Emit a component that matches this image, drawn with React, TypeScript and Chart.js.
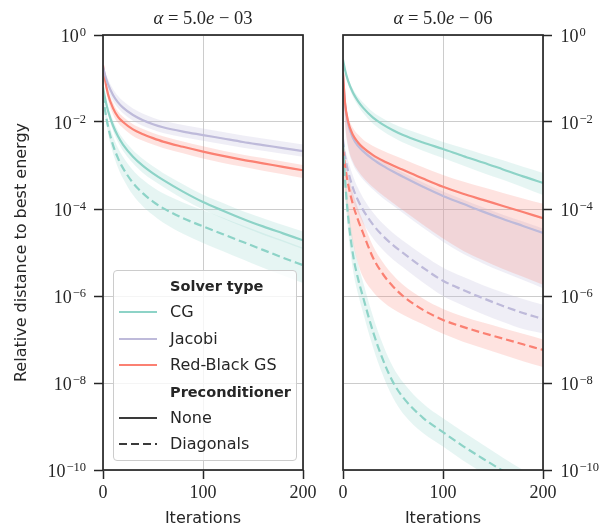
import React, { useEffect, useRef } from 'react';
import { Chart, registerables } from 'chart.js';

Chart.register(...registerables);

// ---- data (values are log10 of the relative distance) ----
const iterations = [0, 2, 5, 10, 15, 20, 30, 40, 50, 60, 80, 100, 120, 140, 160, 180, 200];
const xTickValues = [0, 100, 200];
const yTickValues = [1e-10, 1e-8, 1e-6, 1e-4, 1e-2, 1];
const yTickBase = '10';
const yTickExponents = ['−10', '−8', '−6', '−4', '−2', '0'];
const panelAlphas = ['5.0', '5.0'];
const panelAlphaExps = ['03', '06'];

// Left panel: alpha = 5.0e-03
const jacobiNoneLeft = [-0.73, -0.92, -1.13, -1.38, -1.55, -1.67, -1.84, -1.96, -2.05, -2.12, -2.22, -2.3, -2.38, -2.46, -2.53, -2.6, -2.67];
const jacobiNoneLeftHi = [-0.68, -0.83, -1.01, -1.24, -1.4, -1.52, -1.69, -1.81, -1.9, -1.97, -2.07, -2.15, -2.23, -2.31, -2.38, -2.45, -2.52];
const jacobiNoneLeftLo = [-0.78, -1.01, -1.25, -1.51, -1.68, -1.8, -1.97, -2.09, -2.18, -2.25, -2.35, -2.43, -2.51, -2.59, -2.66, -2.73, -2.8];

const rbgsNoneLeft = [-0.7, -1.02, -1.36, -1.68, -1.88, -2.0, -2.17, -2.28, -2.37, -2.45, -2.57, -2.68, -2.78, -2.87, -2.95, -3.03, -3.11];
const rbgsNoneLeftHi = [-0.66, -0.93, -1.24, -1.56, -1.76, -1.88, -2.05, -2.16, -2.25, -2.33, -2.45, -2.56, -2.66, -2.75, -2.83, -2.91, -2.99];
const rbgsNoneLeftLo = [-0.75, -1.11, -1.48, -1.82, -2.02, -2.14, -2.32, -2.43, -2.52, -2.6, -2.72, -2.84, -2.94, -3.03, -3.12, -3.2, -3.29];

const cgNoneLeft = [-1.2, -1.45, -1.74, -2.08, -2.33, -2.52, -2.8, -3.01, -3.18, -3.33, -3.6, -3.84, -4.04, -4.23, -4.4, -4.56, -4.72];
const cgNoneLeftHi = [-1.15, -1.38, -1.64, -1.96, -2.2, -2.38, -2.65, -2.85, -3.02, -3.17, -3.43, -3.67, -3.86, -4.05, -4.21, -4.37, -4.52];
const cgNoneLeftLo = [-1.25, -1.53, -1.84, -2.2, -2.46, -2.66, -2.95, -3.17, -3.34, -3.49, -3.77, -4.01, -4.22, -4.41, -4.59, -4.75, -4.92];

const cgDiagLeft = [-1.38, -1.72, -2.1, -2.53, -2.83, -3.06, -3.4, -3.64, -3.83, -3.98, -4.21, -4.4, -4.58, -4.76, -4.94, -5.12, -5.29];
const cgDiagLeftHi = [-1.32, -1.61, -1.95, -2.33, -2.6, -2.8, -3.11, -3.33, -3.5, -3.64, -3.85, -4.03, -4.2, -4.38, -4.55, -4.72, -4.89];
const cgDiagLeftLo = [-1.44, -1.84, -2.25, -2.72, -3.05, -3.3, -3.68, -3.94, -4.14, -4.31, -4.57, -4.78, -4.97, -5.16, -5.35, -5.53, -5.7];

// Right panel: alpha = 5.0e-06
const cgNoneRight = [-0.57, -0.8, -1.05, -1.33, -1.52, -1.67, -1.9, -2.06, -2.19, -2.3, -2.47, -2.62, -2.78, -2.93, -3.09, -3.25, -3.4];
const cgNoneRightHi = [-0.54, -0.75, -0.98, -1.24, -1.42, -1.55, -1.77, -1.92, -2.04, -2.14, -2.3, -2.46, -2.6, -2.74, -2.88, -3.03, -3.17];
const cgNoneRightLo = [-0.6, -0.85, -1.12, -1.42, -1.62, -1.79, -2.04, -2.21, -2.35, -2.47, -2.66, -2.83, -3.0, -3.17, -3.33, -3.5, -3.68];

const rbgsNoneRight = [-0.87, -1.55, -1.98, -2.3, -2.47, -2.59, -2.76, -2.89, -3.0, -3.1, -3.3, -3.49, -3.65, -3.79, -3.93, -4.07, -4.21];
const rbgsNoneRightHi = [-0.84, -1.45, -1.85, -2.14, -2.29, -2.4, -2.55, -2.66, -2.76, -2.85, -3.04, -3.22, -3.37, -3.5, -3.63, -3.76, -3.88];
const rbgsNoneRightLo = [-1.0, -2.0, -2.55, -2.92, -3.12, -3.27, -3.5, -3.69, -3.86, -4.03, -4.36, -4.68, -4.96, -5.18, -5.38, -5.56, -5.74];

const jacobiNoneRight = [-0.9, -1.58, -2.03, -2.37, -2.55, -2.67, -2.86, -3.01, -3.14, -3.26, -3.49, -3.7, -3.88, -4.06, -4.23, -4.39, -4.55];
const jacobiNoneRightHi = [-0.86, -1.5, -1.93, -2.27, -2.45, -2.57, -2.76, -2.91, -3.04, -3.16, -3.39, -3.6, -3.78, -3.96, -4.13, -4.29, -4.45];
const jacobiNoneRightLo = [-1.05, -2.05, -2.6, -2.97, -3.17, -3.32, -3.55, -3.75, -3.92, -4.09, -4.43, -4.75, -5.03, -5.25, -5.45, -5.63, -5.82];

const cgDiagRight = [-2.5, -3.3, -4.15, -5.05, -5.6, -6.02, -6.82, -7.47, -7.98, -8.33, -8.8, -9.13, -9.45, -9.74, -10.02, -10.3, -10.58];
const cgDiagRightHi = [-2.35, -3.03, -3.82, -4.7, -5.25, -5.67, -6.47, -7.12, -7.63, -7.98, -8.47, -8.81, -9.12, -9.42, -9.72, -10.0, -10.28];
const cgDiagRightLo = [-2.65, -3.62, -4.48, -5.4, -5.95, -6.38, -7.18, -7.83, -8.34, -8.7, -9.15, -9.46, -9.78, -10.07, -10.35, -10.62, -10.9];

const rbgsDiagRight = [-2.6, -3.0, -3.42, -3.9, -4.25, -4.55, -5.12, -5.5, -5.78, -6.0, -6.32, -6.55, -6.71, -6.85, -6.98, -7.11, -7.24];
const rbgsDiagRightHi = [-2.5, -2.82, -3.18, -3.64, -3.98, -4.28, -4.85, -5.23, -5.52, -5.74, -6.06, -6.3, -6.47, -6.61, -6.74, -6.87, -7.0];
const rbgsDiagRightLo = [-3.0, -3.65, -4.2, -4.8, -5.25, -5.56, -5.9, -6.13, -6.3, -6.43, -6.65, -6.87, -7.05, -7.2, -7.35, -7.5, -7.63];

const jacobiDiagRight = [-2.4, -2.78, -3.12, -3.52, -3.8, -4.02, -4.36, -4.62, -4.83, -5.01, -5.35, -5.65, -5.86, -6.05, -6.23, -6.39, -6.53];
const jacobiDiagRightHi = [-2.3, -2.6, -2.88, -3.24, -3.52, -3.74, -4.08, -4.34, -4.55, -4.73, -5.06, -5.35, -5.56, -5.75, -5.92, -6.07, -6.2];
const jacobiDiagRightLo = [-2.5, -2.96, -3.38, -3.82, -4.1, -4.32, -4.67, -4.94, -5.16, -5.34, -5.69, -6.0, -6.22, -6.42, -6.6, -6.76, -6.86];

const solverNames = ['CG', 'Jacobi', 'Red-Black GS'];
const precondNames = ['None', 'Diagonals'];

// ---- styles ----
const COL = { cg: '#8dd3c7', jacobi: '#bebada', rbgs: '#fb8072' };
const BAND = { cg: 'rgba(141,211,199,0.22)', jacobi: 'rgba(190,186,218,0.25)', rbgs: 'rgba(251,128,114,0.22)' };
const INK = '#262626';
const SERIF = "'Liberation Serif', 'DejaVu Serif', serif";
const SANS = "'DejaVu Sans', sans-serif";
const TICK_LEN = 9;

const toPoints = (exps: number[]) => iterations.map((x, i) => ({ x, y: Math.pow(10, exps[i]) }));

function lineDs(exps: number[], color: string, dashed: boolean) {
  return {
    data: toPoints(exps),
    borderColor: color,
    borderWidth: 2.2,
    borderDash: dashed ? [8, 4] : [],
    pointRadius: 0,
    fill: false,
    cubicInterpolationMode: 'monotone',
    order: 0,
  };
}
function bandDs(hi: number[], lo: number[], rgba: string) {
  return [
    { data: toPoints(hi), borderColor: 'transparent', borderWidth: 0, pointRadius: 0, backgroundColor: rgba, fill: '+1', cubicInterpolationMode: 'monotone', order: 1 },
    { data: toPoints(lo), borderColor: 'transparent', borderWidth: 0, pointRadius: 0, fill: false, cubicInterpolationMode: 'monotone', order: 1 },
  ];
}

const framePlugin = {
  id: 'frame',
  afterDraw(chart: any) {
    const { ctx, chartArea: a } = chart;
    ctx.save();
    ctx.strokeStyle = INK;
    ctx.lineWidth = 1.7;
    ctx.strokeRect(a.left, a.top, a.right - a.left, a.bottom - a.top);
    ctx.restore();
  },
};

// Power-of-ten tick labels, placed with the y scale's own pixel mapping.
const expTickPlugin = {
  id: 'expTicks',
  afterDraw(chart: any) {
    const scale = chart.scales.y;
    const { ctx, chartArea } = chart;
    const isLeft = scale.position === 'left';
    ctx.save();
    ctx.fillStyle = INK;
    ctx.textBaseline = 'alphabetic';
    ctx.textAlign = 'left';
    yTickValues.forEach((v, i) => {
      const y = scale.getPixelForValue(v);
      const exp = yTickExponents[i];
      ctx.font = `18px ${SERIF}`;
      const wb = ctx.measureText(yTickBase).width;
      ctx.font = `12.5px ${SERIF}`;
      const we = ctx.measureText(exp).width;
      const x0 = isLeft ? chartArea.left - TICK_LEN - 8 - (wb + 1 + we) : chartArea.right + TICK_LEN + 8.5;
      ctx.font = `18px ${SERIF}`;
      ctx.fillText(yTickBase, x0, y + 6.5);
      ctx.font = `12.5px ${SERIF}`;
      ctx.fillText(exp, x0 + wb + 1, y + 0.5);
    });
    ctx.restore();
  },
};

function makeOptions(side: 'left' | 'right') {
  const isLeft = side === 'left';
  return {
    responsive: false,
    animation: false,
    events: [],
    layout: { padding: isLeft ? { left: 0, right: 17, top: 35, bottom: 0 } : { left: 23, right: 0, top: 35, bottom: 0 } },
    plugins: { legend: { display: false }, tooltip: { enabled: false }, title: { display: false } },
    scales: {
      x: {
        type: 'linear',
        min: 0,
        max: 200,
        afterBuildTicks: (s: any) => { s.ticks = xTickValues.map((v) => ({ value: v })); },
        afterFit: (s: any) => { s.height = 58; },
        ticks: { font: { family: SERIF, size: 18 }, color: INK, padding: 3, maxRotation: 0, autoSkip: false, callback: (v: any) => String(v) },
        grid: { color: '#cccccc', lineWidth: 1, tickLength: TICK_LEN, tickColor: INK, tickWidth: 1.5 },
        border: { display: false },
        title: { display: true, text: 'Iterations', font: { family: SANS, size: 16 }, color: INK, padding: { top: 0, bottom: 0 } },
      },
      y: {
        type: 'logarithmic',
        position: side,
        min: 1e-10,
        max: 1,
        afterBuildTicks: (s: any) => { s.ticks = yTickValues.map((v) => ({ value: v })); },
        afterFit: (s: any) => { s.width = isLeft ? 103 : 68; },
        ticks: { display: false, autoSkip: false },
        grid: { color: '#cccccc', lineWidth: 1, tickLength: TICK_LEN, tickColor: INK, tickWidth: 1.5 },
        border: { display: false },
        title: isLeft
          ? { display: true, text: 'Relative distance to best energy', font: { family: SANS, size: 16 }, color: INK, padding: { top: 12, bottom: 0 } }
          : { display: false },
      },
    },
  };
}

function leftDatasets() {
  return [
    lineDs(jacobiNoneLeft, COL.jacobi, false),
    lineDs(rbgsNoneLeft, COL.rbgs, false),
    lineDs(cgNoneLeft, COL.cg, false),
    lineDs(cgDiagLeft, COL.cg, true),
    ...bandDs(jacobiNoneLeftHi, jacobiNoneLeftLo, BAND.jacobi),
    ...bandDs(rbgsNoneLeftHi, rbgsNoneLeftLo, BAND.rbgs),
    ...bandDs(cgNoneLeftHi, cgNoneLeftLo, BAND.cg),
    ...bandDs(cgDiagLeftHi, cgDiagLeftLo, BAND.cg),
  ];
}
function rightDatasets() {
  return [
    lineDs(cgNoneRight, COL.cg, false),
    lineDs(rbgsNoneRight, COL.rbgs, false),
    lineDs(jacobiNoneRight, COL.jacobi, false),
    lineDs(cgDiagRight, COL.cg, true),
    lineDs(rbgsDiagRight, COL.rbgs, true),
    lineDs(jacobiDiagRight, COL.jacobi, true),
    ...bandDs(cgNoneRightHi, cgNoneRightLo, BAND.cg),
    ...bandDs(rbgsNoneRightHi, rbgsNoneRightLo, BAND.rbgs),
    ...bandDs(jacobiNoneRightHi, jacobiNoneRightLo, BAND.jacobi),
    ...bandDs(cgDiagRightHi, cgDiagRightLo, BAND.cg),
    ...bandDs(rbgsDiagRightHi, rbgsDiagRightLo, BAND.rbgs),
    ...bandDs(jacobiDiagRightHi, jacobiDiagRightLo, BAND.jacobi),
  ];
}

function Panel({ side, left, width }: { side: 'left' | 'right'; left: number; width: number }) {
  const ref = useRef<HTMLCanvasElement | null>(null);
  useEffect(() => {
    if (!ref.current) return;
    const chart = new Chart(ref.current, {
      type: 'line',
      data: { datasets: (side === 'left' ? leftDatasets() : rightDatasets()) as any },
      options: makeOptions(side) as any,
      plugins: [framePlugin, expTickPlugin],
    });
    return () => chart.destroy();
  }, [side]);
  return (
    <canvas
      ref={ref}
      width={width}
      height={528}
      style={{ position: 'absolute', left, top: 0, width, height: 528 }}
    />
  );
}

function LegendHandle({ color, dashed }: { color: string; dashed?: boolean }) {
  return (
    <svg width={38} height={4} style={{ position: 'absolute', left: 5, top: 10 }}>
      <line x1={0} y1={2} x2={38} y2={2} stroke={color} strokeWidth={2.2} strokeDasharray={dashed ? '8 4' : undefined} />
    </svg>
  );
}

function LegendRow({ center, children }: { center: number; children: React.ReactNode }) {
  return (
    <div style={{ position: 'absolute', left: 0, top: center - 12, width: 182, height: 24 }}>{children}</div>
  );
}

function LegendText({ text, bold }: { text: string; bold?: boolean }) {
  return (
    <div
      style={{
        position: 'absolute',
        left: 56,
        top: 0,
        lineHeight: '24px',
        whiteSpace: 'nowrap',
        fontFamily: SANS,
        fontSize: bold ? 14.5 : 16,
        fontWeight: bold ? 'bold' : 'normal',
        color: INK,
      }}
    >
      {text}
    </div>
  );
}

function Legend() {
  const rowCenters = [15, 41, 68, 94, 121, 147, 173];
  const solverColors = [COL.cg, COL.jacobi, COL.rbgs];
  return (
    <div
      style={{
        position: 'absolute',
        left: 113,
        top: 270,
        width: 182,
        height: 189,
        border: '1px solid #cccccc',
        borderRadius: 4,
        background: 'rgba(255,255,255,0.8)',
      }}
    >
      <LegendRow center={rowCenters[0]}><LegendText text="Solver type" bold /></LegendRow>
      {solverNames.map((n, i) => (
        <LegendRow key={n} center={rowCenters[i + 1]}>
          <LegendHandle color={solverColors[i]} />
          <LegendText text={n} />
        </LegendRow>
      ))}
      <LegendRow center={rowCenters[4]}><LegendText text="Preconditioner" bold /></LegendRow>
      {precondNames.map((n, i) => (
        <LegendRow key={n} center={rowCenters[5 + i]}>
          <LegendHandle color="#3a3a3a" dashed={i === 1} />
          <LegendText text={n} />
        </LegendRow>
      ))}
    </div>
  );
}

function PanelTitle({ left, idx }: { left: number; idx: number }) {
  return (
    <div
      style={{
        position: 'absolute',
        left,
        top: 6,
        width: 200,
        textAlign: 'center',
        fontFamily: SERIF,
        fontSize: 18.5,
        lineHeight: '24px',
        color: INK,
        whiteSpace: 'nowrap',
      }}
    >
      <i>α</i>&nbsp;=&nbsp;{panelAlphas[idx]}<i>e</i>&nbsp;−&nbsp;{panelAlphaExps[idx]}
    </div>
  );
}

export default function App() {
  return (
    <div style={{ position: 'absolute', left: 0, top: 0, width: 611, height: 528, background: '#fff', overflow: 'hidden' }}>
      <Panel side="left" left={0} width={320} />
      <Panel side="right" left={320} width={291} />
      <PanelTitle left={103} idx={0} />
      <PanelTitle left={343} idx={1} />
      <Legend />
    </div>
  );
}
